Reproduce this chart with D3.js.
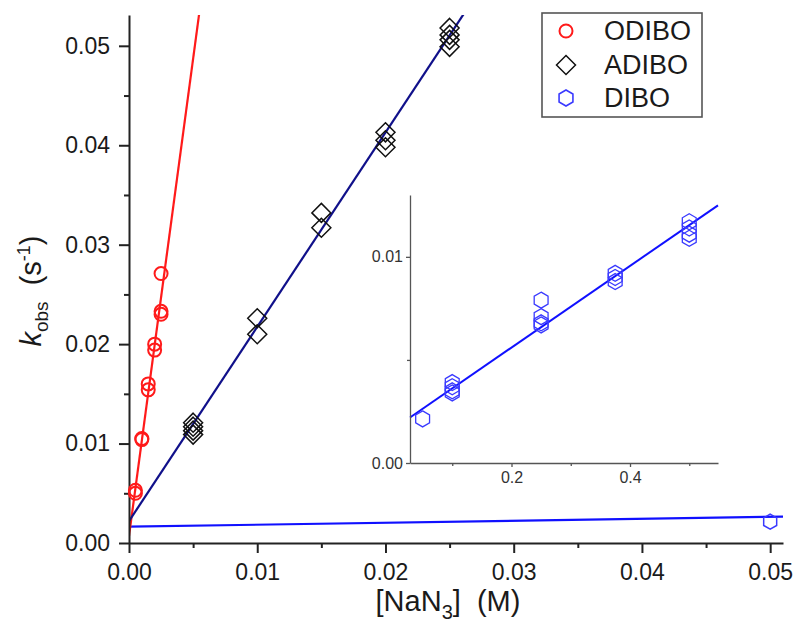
<!DOCTYPE html>
<html>
<head>
<meta charset="utf-8">
<script src="https://cdn.jsdelivr.net/npm/d3@7"></script>
<style>
  html, body { margin: 0; padding: 0; background: #fff; }
  svg { display: block; font-family: "Liberation Sans", Arial, sans-serif; }
</style>
</head>
<body>
<svg id="chart" width="800" height="644"></svg>
<script>
// ---------- data ----------
const seriesNames = ["ODIBO", "ADIBO", "DIBO"];

const odiboX = [0.0005, 0.0005, 0.001, 0.001, 0.0015, 0.0015, 0.002, 0.002, 0.0025, 0.0025, 0.0025];
const odiboK = [0.0053, 0.0050, 0.0105, 0.0104, 0.0160, 0.0154, 0.0200, 0.0194, 0.0233, 0.0230, 0.0271];

const adiboX = [0.005, 0.005, 0.005, 0.005, 0.01, 0.01, 0.015, 0.015, 0.02, 0.02, 0.02, 0.025, 0.025, 0.025, 0.025];
const adiboK = [0.0121, 0.0117, 0.0113, 0.0109, 0.0226, 0.0210, 0.0332, 0.0317, 0.0413, 0.0405, 0.0398, 0.0518, 0.0511, 0.0506, 0.0499];

const diboX = [0.05, 0.1, 0.1, 0.1, 0.1, 0.25, 0.25, 0.25, 0.25, 0.375, 0.375, 0.375, 0.5, 0.5, 0.5, 0.5];
const diboK = [0.00214, 0.0039, 0.0037, 0.0035, 0.0034, 0.0079, 0.0071, 0.0068, 0.0067, 0.0092, 0.0090, 0.0088, 0.0117, 0.0114, 0.0111, 0.0109];

// linear fits: k = intercept + slope * [NaN3]
const fitIntercept = [0.0007, 0.0022, 0.00164];
const fitSlope = [9.6, 1.954, 0.0198];

// ticks
const mainXMajor = [0, 0.01, 0.02, 0.03, 0.04, 0.05];
const mainXMinor = [0.005, 0.015, 0.025, 0.035, 0.045];
const mainYMajor = [0, 0.01, 0.02, 0.03, 0.04, 0.05];
const mainYMinor = [0.005, 0.015, 0.025, 0.035, 0.045];
const insetXMajor = [0.2, 0.4];
const insetXMinor = [0.1, 0.3, 0.5];
const insetYMajor = [0, 0.01];
const insetYMinor = [0.005];

// ---------- drawing ----------
const svg = d3.select("#chart");
const colors = { ODIBO: "#ff1a1a", ADIBO: "#111111", DIBO: "#3a3aff" };
const lineColors = ["#ff1a1a", "#10108a", "#1010ff"];

const x = d3.scaleLinear().domain([0, 0.051]).range([129, 783]);
const y = d3.scaleLinear().domain([0, 0.0531]).range([543, 15]);

svg.append("defs").append("clipPath").attr("id", "plotclip")
  .append("rect").attr("x", x(0)).attr("y", y(0.0531))
  .attr("width", x(0.051) - x(0)).attr("height", y(0) - y(0.0531));

function hexPath(r) {
  const pts = d3.range(6).map(i => {
    const a = (-90 + 60 * i) * Math.PI / 180;
    return [r * Math.cos(a), r * Math.sin(a)];
  });
  return "M" + pts.map(p => p[0].toFixed(2) + "," + p[1].toFixed(2)).join("L") + "Z";
}
function diamondPath(r) {
  return `M0,${-r}L${r},0L0,${r}L${-r},0Z`;
}

// ---- main fit lines ----
const lines = svg.append("g").attr("clip-path", "url(#plotclip)");
const xDom = [0, 0.051];
[2, 0, 1].forEach(i => {
  const pts = xDom.map(v => [x(v), y(fitIntercept[i] + fitSlope[i] * v)]);
  lines.append("path").attr("d", d3.line()(pts))
    .attr("fill", "none").attr("stroke", lineColors[i]).attr("stroke-width", 2.2);
});

// ---- main axes ----
function styleAxis(g, w) {
  g.select(".domain").attr("stroke", "#222").attr("stroke-width", w);
  g.selectAll(".tick line").attr("stroke", "#222").attr("stroke-width", w);
}
const fmt2 = d3.format(".2f");

const gx = svg.append("g").attr("transform", `translate(0,${y(0)})`);
gx.call(d3.axisBottom(x).tickValues(mainXMajor).tickSize(10).tickSizeOuter(0).tickPadding(6).tickFormat(fmt2));
gx.selectAll(".tick text").attr("font-size", 23).attr("fill", "#1a1a1a").attr("dy", "0.93em")
  .attr("font-family", "Liberation Sans, Arial, sans-serif");
styleAxis(gx, 2);
const gxm = svg.append("g").attr("transform", `translate(0,${y(0)})`);
gxm.call(d3.axisBottom(x).tickValues(mainXMinor).tickSize(5).tickFormat(""));
gxm.select(".domain").remove();
styleAxis(gxm, 2);

const gy = svg.append("g").attr("transform", `translate(${x(0)},0)`);
gy.call(d3.axisLeft(y).tickValues(mainYMajor).tickSize(10).tickSizeOuter(0).tickPadding(9).tickFormat(fmt2));
gy.selectAll(".tick text").attr("font-size", 23).attr("fill", "#1a1a1a")
  .attr("font-family", "Liberation Sans, Arial, sans-serif");
styleAxis(gy, 2);
const gym = svg.append("g").attr("transform", `translate(${x(0)},0)`);
gym.call(d3.axisLeft(y).tickValues(mainYMinor).tickSize(5).tickFormat(""));
gym.select(".domain").remove();
styleAxis(gym, 2);

// ---- main markers ----
const odibo = odiboX.map((v, i) => ({ x: v, k: odiboK[i] }));
const adibo = adiboX.map((v, i) => ({ x: v, k: adiboK[i] }));
const dibo = diboX.map((v, i) => ({ x: v, k: diboK[i] }));

svg.append("g").selectAll("circle").data(odibo).join("circle")
  .attr("cx", d => x(d.x)).attr("cy", d => y(d.k)).attr("r", 6.5)
  .attr("fill", "none").attr("stroke", colors.ODIBO).attr("stroke-width", 2);

svg.append("g").selectAll("path").data(adibo).join("path")
  .attr("transform", d => `translate(${x(d.x)},${y(d.k)})`)
  .attr("d", diamondPath(9.5))
  .attr("fill", "none").attr("stroke", colors.ADIBO).attr("stroke-width", 1.5);

svg.append("g").selectAll("path").data(dibo.filter(d => d.x <= 0.051)).join("path")
  .attr("transform", d => `translate(${x(d.x)},${y(d.k)})`)
  .attr("d", hexPath(7.5))
  .attr("fill", "none").attr("stroke", colors.DIBO).attr("stroke-width", 1.5);

// ---- axis titles ----
const xt = svg.append("text").attr("x", 448).attr("y", 611)
  .attr("text-anchor", "middle").attr("font-size", 29).attr("fill", "#1a1a1a")
  .style("white-space", "pre");
xt.append("tspan").text("[NaN");
xt.append("tspan").attr("font-size", 20).attr("dy", 8).text("3");
xt.append("tspan").attr("dy", -8).text("]  (M)");

const yt = svg.append("text").attr("transform", "translate(41,291) rotate(-90)")
  .attr("text-anchor", "middle").attr("font-size", 29).attr("fill", "#1a1a1a")
  .style("white-space", "pre");
yt.append("tspan").attr("font-style", "italic").text("k");
yt.append("tspan").attr("font-size", 19).attr("dy", 7).text("obs");
yt.append("tspan").attr("dy", -7).text("  (s");
yt.append("tspan").attr("font-size", 18).attr("dy", -11).text("-1");
yt.append("tspan").attr("dy", 11).text(")");

// ---- legend ----
const lg = svg.append("g");
lg.append("rect").attr("x", 542).attr("y", 13).attr("width", 160).attr("height", 104)
  .attr("fill", "#fff").attr("stroke", "#555").attr("stroke-width", 1.6);
const legY = [31, 65, 98];
seriesNames.forEach((name, i) => {
  const cy = legY[i];
  if (name === "ODIBO") {
    lg.append("circle").attr("cx", 566).attr("cy", cy).attr("r", 6.5)
      .attr("fill", "none").attr("stroke", colors.ODIBO).attr("stroke-width", 2);
  } else if (name === "ADIBO") {
    lg.append("path").attr("transform", `translate(566,${cy})`).attr("d", diamondPath(9.5))
      .attr("fill", "none").attr("stroke", colors.ADIBO).attr("stroke-width", 1.5);
  } else {
    lg.append("path").attr("transform", `translate(566,${cy})`).attr("d", hexPath(8))
      .attr("fill", "none").attr("stroke", colors.DIBO).attr("stroke-width", 1.6);
  }
  lg.append("text").attr("x", 604).attr("y", cy + 9).attr("font-size", 27)
    .attr("fill", "#1a1a1a").text(name);
});

// ---- inset ----
const ix = d3.scaleLinear().domain([0.0287, 0.5485]).range([410, 718]);
const iy = d3.scaleLinear().domain([0, 0.013]).range([463, 195]);

const ifit = [0.0287, 0.5485].map(v => [ix(v), iy(fitIntercept[2] + fitSlope[2] * v)]);
svg.append("path").attr("d", d3.line()(ifit)).attr("fill", "none")
  .attr("stroke", lineColors[2]).attr("stroke-width", 2);

function styleInset(g) {
  g.select(".domain").attr("stroke", "#555").attr("stroke-width", 1.3);
  g.selectAll(".tick line").attr("stroke", "#555").attr("stroke-width", 1.3);
  g.selectAll(".tick text").attr("font-size", 16).attr("fill", "#333")
    .attr("font-family", "Liberation Sans, Arial, sans-serif");
}
const igx = svg.append("g").attr("transform", `translate(0,${iy(0)})`);
igx.call(d3.axisBottom(ix).tickValues(insetXMajor).tickSize(4).tickSizeOuter(0).tickPadding(5).tickFormat(d3.format(".1f")));
styleInset(igx);
const igxm = svg.append("g").attr("transform", `translate(0,${iy(0)})`);
igxm.call(d3.axisBottom(ix).tickValues(insetXMinor).tickSize(3).tickFormat(""));
igxm.select(".domain").remove();
styleInset(igxm);

const igy = svg.append("g").attr("transform", `translate(${ix(0.0287)},0)`);
igy.call(d3.axisLeft(iy).tickValues(insetYMajor).tickSize(4).tickSizeOuter(0).tickPadding(3).tickFormat(fmt2));
styleInset(igy);
const igym = svg.append("g").attr("transform", `translate(${ix(0.0287)},0)`);
igym.call(d3.axisLeft(iy).tickValues(insetYMinor).tickSize(3).tickFormat(""));
igym.select(".domain").remove();
styleInset(igym);

svg.append("g").selectAll("path").data(dibo).join("path")
  .attr("transform", d => `translate(${ix(d.x)},${iy(d.k)})`)
  .attr("d", hexPath(8))
  .attr("fill", "none").attr("stroke", colors.DIBO).attr("stroke-width", 1.3);
</script>
</body>
</html>
